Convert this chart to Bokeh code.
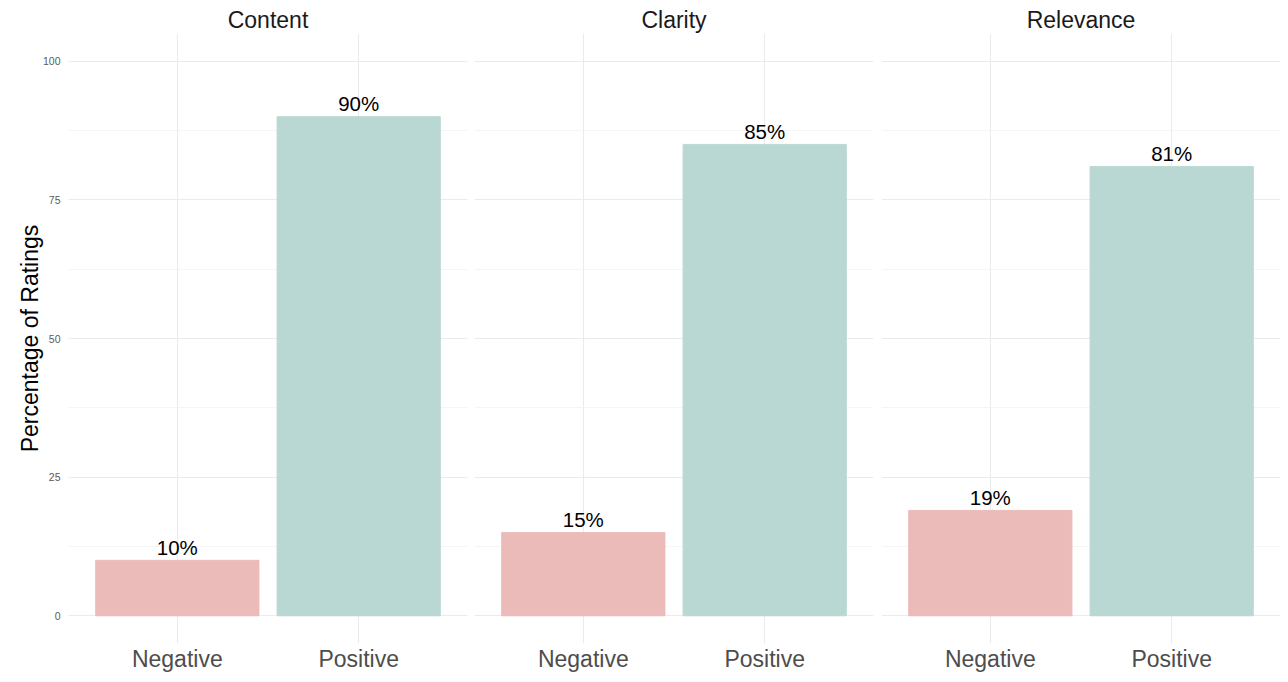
from bokeh.plotting import figure
from bokeh.models import FactorRange, Range1d, FixedTicker, ColumnDataSource
from bokeh.layouts import row
from bokeh.embed import file_html
from bokeh.resources import INLINE

facets = ["Content", "Clarity", "Relevance"]
ratings = ["Negative", "Positive"]
negative = [10, 15, 19]
positive = [90, 85, 81]
y_ticks = [0, 25, 50, 75, 100]
y_minor = [12.5, 37.5, 62.5, 87.5]

colors = ["#EBBBB9", "#BAD8D3"]
FONT = "Liberation Sans"

figs = []
borders = [(68, 4), (3, 4), (4, 5)]
for i, name in enumerate(facets):
    vals = [negative[i], positive[i]]
    src = ColumnDataSource(dict(x=ratings, top=vals, color=colors,
                                label=[f"{v}%" for v in vals]))
    xr = FactorRange(*ratings, range_padding=0.1, range_padding_units="absolute")
    p = figure(x_range=xr, y_range=Range1d(-5, 105),
               frame_width=399, frame_height=610,
               output_backend="svg", toolbar_location=None,
               min_border_left=borders[i][0], min_border_right=borders[i][1],
               min_border_top=33, min_border_bottom=0,
               title=name)
    p.vbar(x="x", top="top", bottom=0, width=0.9, color="color", source=src)
    p.text(x="x", y="top", text="label", source=src, text_align="center",
           text_baseline="bottom", y_offset=-1.5, text_font_size="20.5px",
           text_color="#000000", text_font={"value": FONT})
    p.title.align = "center"
    p.title.text_font = FONT
    p.title.text_font_size = "23px"
    p.title.text_font_style = "normal"
    p.title.text_color = "#1a1a1a"
    p.title.standoff = 2
    p.title.offset = 0
    p.outline_line_color = None
    p.background_fill_color = "white"
    p.border_fill_color = "white"

    p.yaxis.ticker = FixedTicker(ticks=y_ticks, minor_ticks=y_minor)
    p.ygrid.ticker = FixedTicker(ticks=y_ticks, minor_ticks=y_minor)
    p.ygrid.grid_line_color = "#ebebeb"
    p.ygrid.grid_line_width = 1.1
    p.ygrid.minor_grid_line_color = "#f2f2f2"
    p.ygrid.minor_grid_line_width = 0.8
    p.xgrid.grid_line_color = "#ebebeb"
    p.xgrid.grid_line_width = 1.1

    for ax in (p.xaxis, p.yaxis):
        ax.axis_line_color = None
        ax.major_tick_line_color = None
        ax.minor_tick_line_color = None
    p.xaxis.major_label_text_font = FONT
    p.xaxis.major_label_text_font_size = "23px"
    p.xaxis.major_label_text_color = "#4d4d4d"
    p.xaxis.major_label_standoff = -4

    if i == 0:
        p.yaxis.major_label_text_font = FONT
        p.yaxis.major_label_text_font_size = "10.5px"
        p.yaxis.major_label_text_color = "#5a5a5a"
        p.yaxis.major_label_standoff = 2
        p.yaxis.axis_label = "Percentage of Ratings"
        p.yaxis.axis_label_text_font = FONT
        p.yaxis.axis_label_text_font_size = "23px"
        p.yaxis.axis_label_text_font_style = "normal"
        p.yaxis.axis_label_text_color = "#000000"
        p.yaxis.axis_label_standoff = -3
    else:
        p.yaxis.visible = False
    figs.append(p)

layout = row(*figs, spacing=0)
open("out.html", "w").write(file_html(layout, INLINE))
